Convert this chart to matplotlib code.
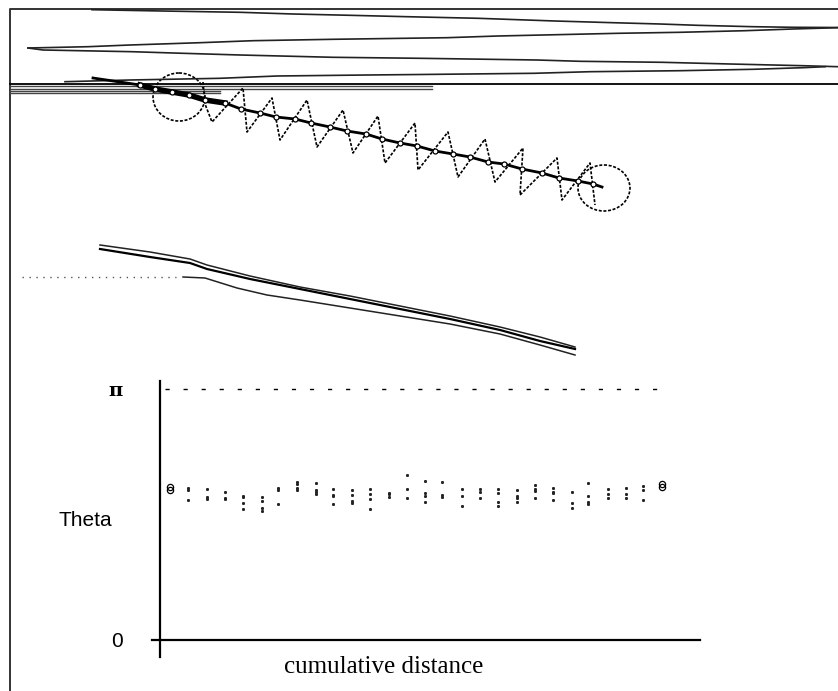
import numpy as np
import matplotlib.pyplot as plt
from matplotlib.patches import Ellipse

# ---- scene (upper part), in picture units ----
frame_x = [838, 10, 10]
frame_y = [9, 9, 691]
divider_y = 83.5

# converging ray pairs in the top box
ray_a_x = [92, 162, 240, 293, 350, 407, 478, 555, 613, 660, 697, 753, 793, 838]
ray_a_y = [9.7, 11, 12.3, 14, 15.3, 16.7, 18.3, 21, 22.7, 24, 25.3, 26.7, 27.3, 27.5]
ray_b_x = [28, 88, 130, 200, 253, 333, 447, 498, 574, 618, 680, 745, 793, 838]
ray_b_y = [48, 46.7, 45, 42.7, 40.7, 39.3, 37.7, 36, 34.3, 33.3, 32.3, 30.7, 29, 27.7]
ray_c_x = [28, 43, 132, 183, 240, 333, 420, 537, 580, 662, 730, 803, 838]
ray_c_y = [48, 50, 51.7, 53.3, 55, 57.3, 58.3, 60, 61.3, 62.3, 64, 65.7, 66.7]
ray_d_x = [65, 130, 220, 277, 367, 420, 534, 590, 680, 753, 803, 825]
ray_d_y = [81.7, 80, 78.3, 76, 75, 74.5, 73.3, 71.7, 70.7, 69.3, 67.7, 66.7]

# stacked horizontal bars under the box
bar_y = [86, 89, 91, 93]
bar_end = [432, 432, 220, 220]

# helix axis with node markers
axis_x = [93, 140, 155, 172, 189, 205, 225, 241, 260, 276, 295, 311, 330, 347, 366,
          382, 400, 417, 435, 453, 470, 488, 504, 522, 542, 559, 578, 593, 602]
axis_y = [78, 85, 89, 92, 95, 100, 103, 109, 113, 117, 119, 123, 127, 131, 134,
          139, 143, 146, 151, 154, 157, 162, 164, 169, 173, 178, 181, 184, 187]

# helix trace (trough / peak alternation)
wave_x = [203, 205, 212, 243, 247, 272, 280, 307, 317, 343, 353, 378, 385, 415, 418,
          448, 458, 485, 495, 523, 520, 557, 562, 590, 595]
wave_y = [82, 104, 122, 88, 132, 98, 140, 100, 147, 110, 153, 116, 163, 123, 170,
          132, 177, 139, 182, 148, 195, 158, 200, 163, 205]
loop_start = (179, 97, 52, 48)
loop_end = (604, 188, 52, 46)

# middle panel traces
mid1_x = [100, 150, 190, 207, 250, 300, 350, 400, 450, 500, 540, 575]
mid1_y = [245, 252, 259, 265, 276, 287, 296, 306, 316, 327, 337, 347]
mid2_x = [100, 150, 190, 207, 250, 300, 350, 400, 450, 500, 540, 575]
mid2_y = [249, 257, 263, 269, 279, 289, 299, 309, 319, 330, 341, 349]
mid3_x = [183, 205, 237, 267, 300, 350, 400, 450, 500, 540, 575]
mid3_y = [277, 278, 288, 295, 300, 308, 316, 324, 334, 345, 355]
ref_x = [22, 176]
ref_y = 277

# ---- theta vs cumulative distance ----
dist = [0, 18, 37, 55, 73, 92, 108, 127, 146, 163, 182, 200, 219, 237,
        255, 272, 292, 310, 328, 347, 365, 383, 402, 418, 438, 456, 473, 492]
theta = [
    [1.877],
    [1.902, 1.877, 1.752],
    [1.890, 1.790, 1.765],
    [1.852, 1.777, 1.765],
    [1.802, 1.790, 1.715, 1.640],
    [1.790, 1.740, 1.652, 1.615],
    [1.902, 1.877, 1.702],
    [1.978, 1.953, 1.902, 1.877],
    [1.965, 1.877, 1.852, 1.827],
    [1.890, 1.815, 1.802, 1.702],
    [1.877, 1.815, 1.740, 1.715],
    [1.890, 1.827, 1.765, 1.640],
    [1.840, 1.827, 1.790],
    [2.065, 1.890, 1.777],
    [1.990, 1.840, 1.802, 1.727],
    [1.978, 1.815, 1.790],
    [1.890, 1.802, 1.677],
    [1.890, 1.852, 1.777],
    [1.890, 1.840, 1.727, 1.677],
    [1.877, 1.802, 1.777, 1.727],
    [1.940, 1.890, 1.865, 1.777],
    [1.902, 1.852, 1.840, 1.752],
    [1.852, 1.715, 1.652],
    [1.965, 1.802, 1.727, 1.702],
    [1.890, 1.827, 1.777],
    [1.902, 1.827, 1.777],
    [1.927, 1.877, 1.752],
    [1.915],
]

fig = plt.figure(figsize=(8.38, 6.91), dpi=100)
scene = fig.add_axes([0, 0, 1, 1])
scene.set_xlim(0, 838)
scene.set_ylim(691, 0)
scene.axis('off')

scene.plot(frame_x, frame_y, color='#333333', lw=1.4)
scene.plot([10, 838], [divider_y, divider_y], color='black', lw=1.3)
for yy, xe in zip(bar_y, bar_end):
    scene.plot([10, xe], [yy, yy], color='#444444', lw=1.0)

for xs, ys in [(ray_a_x, ray_a_y), (ray_b_x, ray_b_y), (ray_c_x, ray_c_y), (ray_d_x, ray_d_y)]:
    scene.plot(xs, ys, color='#222222', lw=1.2)

dots = dict(lw=1.2, linestyle=(0, (1.8, 1.0)))
scene.plot(wave_x, wave_y, color='black', **dots)
for cx, cy, w, h in [loop_start, loop_end]:
    scene.add_patch(Ellipse((cx, cy), w, h, fill=False, ec='black', **dots))

scene.plot(axis_x, axis_y, color='black', lw=2.0)
scene.plot(axis_x[1:7], axis_y[1:7], color='black', lw=4.0)
scene.plot(axis_x[1:-1], axis_y[1:-1], 'o', ms=3.6, mfc='white', mec='black', mew=0.9, lw=0)

scene.plot(mid1_x, mid1_y, color='#222222', lw=1.1)
scene.plot(mid2_x, mid2_y, color='black', lw=1.6)
scene.plot(mid3_x, mid3_y, color='#222222', lw=1.1)
scene.plot(ref_x, [ref_y, ref_y], color='#555555', lw=1.0, linestyle=(0, (1, 4)))

# theta panel
ax = fig.add_axes([152 / 838, 1 - 657 / 691, (700 - 152) / 838, (657 - 381) / 691])
ax.set_facecolor('none')
ax.set_xlim(-18, 530)
ax.set_ylim(-0.2128, 3.2417)
for s in ['top', 'right']:
    ax.spines[s].set_visible(False)
ax.spines['left'].set_position(('data', -10))
ax.spines['bottom'].set_position(('data', 0))
ax.spines['left'].set_linewidth(1.6)
ax.spines['bottom'].set_linewidth(1.6)
ax.set_xticks([])
ax.set_yticks([0, np.pi], ['0', 'π'])
ax.tick_params(axis='y', length=0, pad=27, labelsize=15)
labels = ax.get_yticklabels()
labels[0].set_family('Liberation Sans')
labels[1].set_family('DejaVu Serif')
labels[1].set_fontweight('bold')
labels[1].set_fontsize(14)

ax.set_ylabel('Theta', rotation=0, fontsize=15, family='Liberation Sans', ha='center', va='center')
ax.yaxis.set_label_coords(-0.122, 0.493)
ax.set_xlabel('cumulative distance', fontsize=18, family='Liberation Serif', va='center')
ax.xaxis.set_label_coords(0.423, -0.036)

ax.plot([-5, 495], [np.pi, np.pi], color='black', lw=1.0, linestyle=(0, (3, 10)))

px = [d for d, grp in zip(dist[1:-1], theta[1:-1]) for _ in grp]
py = [t for grp in theta[1:-1] for t in grp]
ax.plot(px, py, 's', ms=1.1, color='#222222', lw=0)
ends_x = [dist[0], dist[-1]]
ends_y = [theta[0][0], theta[-1][0]]
ax.plot(ends_x, ends_y, 'o', ms=4.5, mfc='none', mec='black', mew=0.9, lw=0)
ax.plot(ends_x, [v + 0.04 for v in ends_y], 'o', ms=4.5, mfc='none', mec='black', mew=0.9, lw=0)

fig.savefig('out.png', dpi=100)
